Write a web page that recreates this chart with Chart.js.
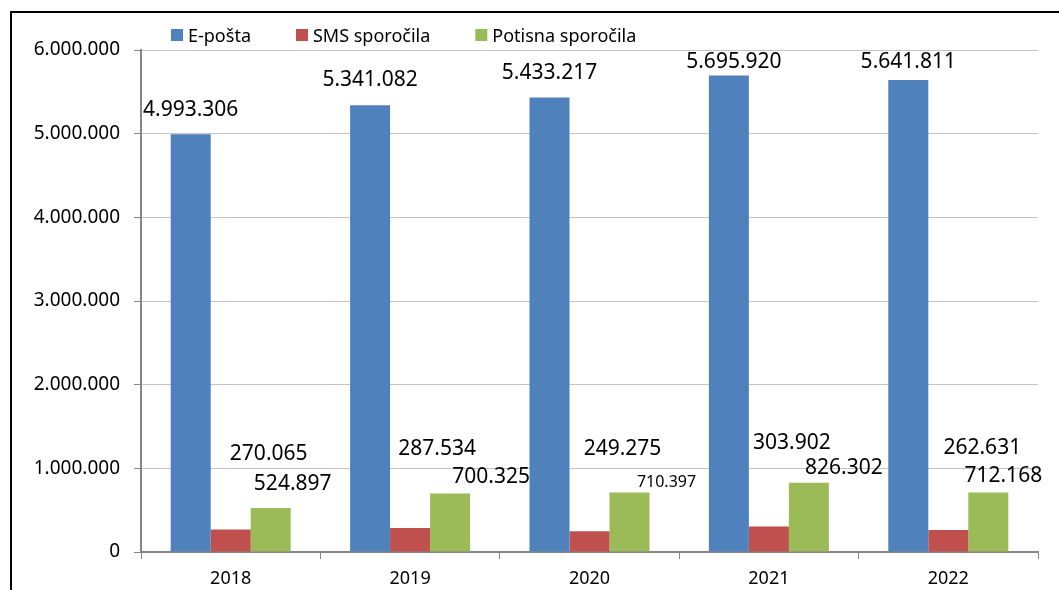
<!DOCTYPE html>
<html lang="sl">

<head>
	<meta charset="UTF-8">
	<title>Gráfico - sporočila</title>
	<script type="text/javascript" src="https://cdn.jsdelivr.net/npm/chart.js"></script>
	<style>
		* {
			margin: 0;
			padding: 0;
			box-sizing: border-box;
		}

		body {
			width: 1059px;
			height: 590px;
			overflow: hidden;
			background: #fff;
			position: relative;
		}

		#grafico {
			position: absolute;
			left: 0;
			top: 0;
		}

		/* marco negro del gráfico (sale por la derecha y abajo) */
		#marco {
			position: absolute;
			left: 10px;
			top: 11px;
			width: 1100px;
			height: 700px;
			border: 2px solid #000;
			pointer-events: none;
		}
	</style>
</head>

<body>
	<canvas id="grafico" width="1059" height="590"></canvas>
	<div id="marco"></div>

	<script type="text/javascript">
		// Datos del gráfico
		const anios = ['2018', '2019', '2020', '2021', '2022'];
		const eposta = [4993306, 5341082, 5433217, 5695920, 5641811];
		const sms = [270065, 287534, 249275, 303902, 262631];
		const potisna = [524897, 700325, 710397, 826302, 712168];
		const nombres = ['E-pošta', 'SMS sporočila', 'Potisna sporočila'];
		const ejeMax = 6000000;
		const ejePaso = 1000000;

		// desplazamiento de cada etiqueta respecto a la parte de arriba de su barra [dx, dy]
		const desplazamientos = [
			[[0, -26], [0, -27], [0, -26], [5, -15], [0, -20]],
			[[38, -77], [27, -81], [33, -84], [23, -85], [34, -84]],
			[[22, -26], [41, -18], [37, -11], [35, -16], [15, -18]]
		];
		// tamaño de letra de cada etiqueta
		const tamanos = [
			[21, 21, 21, 21, 21],
			[21, 21, 21, 21, 21],
			[21, 21, 16, 21, 21]
		];

		const fuente = '"Noto Sans", sans-serif';
		const colores = ['#4F81BD', '#C0504D', '#9BBB59'];

		// 4993306 -> 4.993.306
		function formato(valor) {
			return String(valor).replace(/\B(?=(\d{3})+(?!\d))/g, '.');
		}

		// Dibuja los valores encima de las barras
		const etiquetas = {
			id: 'etiquetas',
			afterDatasetsDraw(chart) {
				const ctx = chart.ctx;
				ctx.save();
				ctx.fillStyle = '#000';
				ctx.textAlign = 'center';
				ctx.textBaseline = 'alphabetic';
				chart.data.datasets.forEach((ds, i) => {
					chart.getDatasetMeta(i).data.forEach((barra, j) => {
						const [dx, dy] = desplazamientos[i][j];
						const t = tamanos[i][j];
						ctx.font = t + 'px ' + fuente;
						ctx.fillText(formato(ds.data[j]), barra.x + dx, barra.y + dy + t * 0.36);
					});
				});
				ctx.restore();
			}
		};

		// Leyenda arriba a la izquierda, como en el original
		const leyenda = {
			id: 'leyenda',
			afterDraw(chart) {
				const ctx = chart.ctx;
				let x = 171;
				const y = 35;
				ctx.save();
				ctx.font = '18px ' + fuente;
				ctx.textAlign = 'left';
				ctx.textBaseline = 'alphabetic';
				chart.data.datasets.forEach(ds => {
					ctx.fillStyle = ds.backgroundColor;
					ctx.fillRect(x, y - 6, 12, 12);
					ctx.fillStyle = '#000';
					ctx.fillText(ds.label, x + 17, y + 6.5);
					x += 17 + ctx.measureText(ds.label).width + 45;
				});
				ctx.restore();
			}
		};

		const valores = {
			labels: anios,
			datasets: [eposta, sms, potisna].map((serie, i) => ({
				label: nombres[i],
				data: serie,
				backgroundColor: colores[i],
				borderWidth: 0
			}))
		};

		const options = {
			responsive: false,
			animation: false,
			layout: {
				padding: { top: 50, right: 21, left: 0, bottom: 0 }
			},
			datasets: {
				bar: { categoryPercentage: 0.669, barPercentage: 1 }
			},
			plugins: {
				legend: { display: false },
				tooltip: { enabled: false }
			},
			scales: {
				x: {
					grid: { drawOnChartArea: false, offset: true, color: '#868686', tickLength: 7 },
					border: { color: '#868686', width: 2 },
					ticks: { color: '#000', font: { family: fuente, size: 18 }, padding: 9 },
					afterFit(scale) { scale.height = 38; }
				},
				y: {
					min: 0,
					max: ejeMax,
					ticks: {
						stepSize: ejePaso,
						callback: v => formato(v),
						color: '#000',
						font: { family: fuente, size: 19 },
						padding: 14
					},
					grid: { color: '#c4c4c4', tickColor: '#868686', tickLength: 7 },
					border: { color: '#868686', width: 2 },
					afterFit(scale) { scale.width = 141; }
				}
			}
		};

		const grafico = new Chart(document.querySelector('#grafico'), {
			type: 'bar',
			data: valores,
			options: options,
			plugins: [etiquetas, leyenda]
		});
	</script>
</body>

</html>
